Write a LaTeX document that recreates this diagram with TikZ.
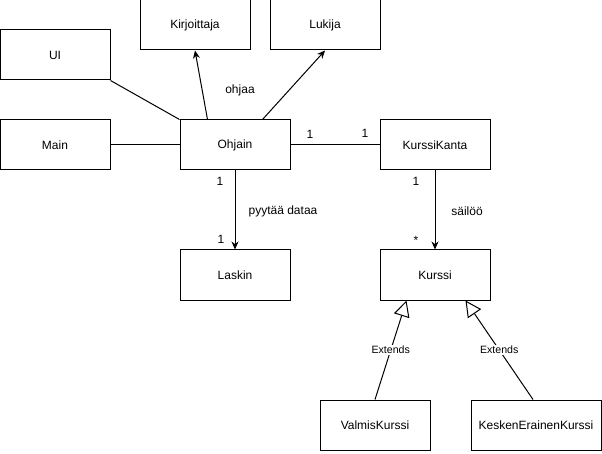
\documentclass[tikz,border=0pt]{standalone}
\usepackage{fontspec}
\setmainfont{Liberation Sans}
\usetikzlibrary{arrows.meta}
\begin{document}
\begin{tikzpicture}[x=1pt,y=-1pt,
  cls/.style={draw=black,line width=1pt,fill=white,minimum width=110pt,minimum height=50pt,inner sep=0pt,font=\fontsize{12}{14}\selectfont},
  lbl/.style={font=\fontsize{12}{14}\selectfont,inner sep=0pt},
  conn/.style={line width=1pt},
  assoc/.style={conn,-{Stealth[length=8pt,width=7pt]}},
  extends/.style={conn,-{Triangle[open,length=16pt,width=16pt,fill=white]}},
  extlbl/.style={font=\fontsize{10.6}{12}\selectfont,fill=white,inner sep=1pt}]
\useasboundingbox (0,0) rectangle (602,454);
\node[cls] (UI) at (55,55) {UI};
\node[cls] (Kirjoittaja) at (195,25) {Kirjoittaja};
\node[cls] (Lukija) at (325,25) {Lukija};
\node[cls] (Main) at (55,145) {Main};
\node[cls] (Ohjain) at (235,145) {Ohjain};
\node[cls] (KurssiKanta) at (435,145) {KurssiKanta};
\node[cls] (Laskin) at (235,275) {Laskin};
\node[cls] (Kurssi) at (435,275) {Kurssi};
\node[cls] (ValmisKurssi) at (375,425) {ValmisKurssi};
\node[cls,minimum width=130pt] (Kesken) at (536,425) {KeskenErainenKurssi};

\draw[conn] (UI.south east) -- (Ohjain.north west);
\draw[conn] (Main.east) -- (Ohjain.west);
\draw[assoc] ([xshift=28pt]Ohjain.north west) -- (Kirjoittaja.south);
\draw[assoc] ([xshift=83pt]Ohjain.north west) -- (Lukija.south);
\draw[conn] (Ohjain.east) -- (KurssiKanta.west);
\draw[assoc] (Ohjain.south) -- (Laskin.north);
\draw[assoc] (KurssiKanta.south) -- (Kurssi.north);
\draw[extends] (ValmisKurssi.north) -- ([xshift=27pt]Kurssi.south west) node[extlbl,pos=0.5] {Extends};
\draw[extends] ([xshift=-3pt]Kesken.north) -- ([xshift=-25pt]Kurssi.south east) node[extlbl,pos=0.5] {Extends};

\node[lbl] (l1) at (240,90) {ohjaa};
\node[lbl] (l2) at (310,134) {1};
\node[lbl] (l3) at (365,133) {1};
\node[lbl] (l4) at (220,181) {1};
\node[lbl] (l5) at (221,239) {1};
\node[lbl] (l6) at (283,211) {pyytää dataa};
\node[lbl] (l7) at (416,181) {1};
\node[lbl] (l8) at (416,240) {*};
\node[lbl] (l9) at (467,211) {säilöö};
\end{tikzpicture}
\end{document}
